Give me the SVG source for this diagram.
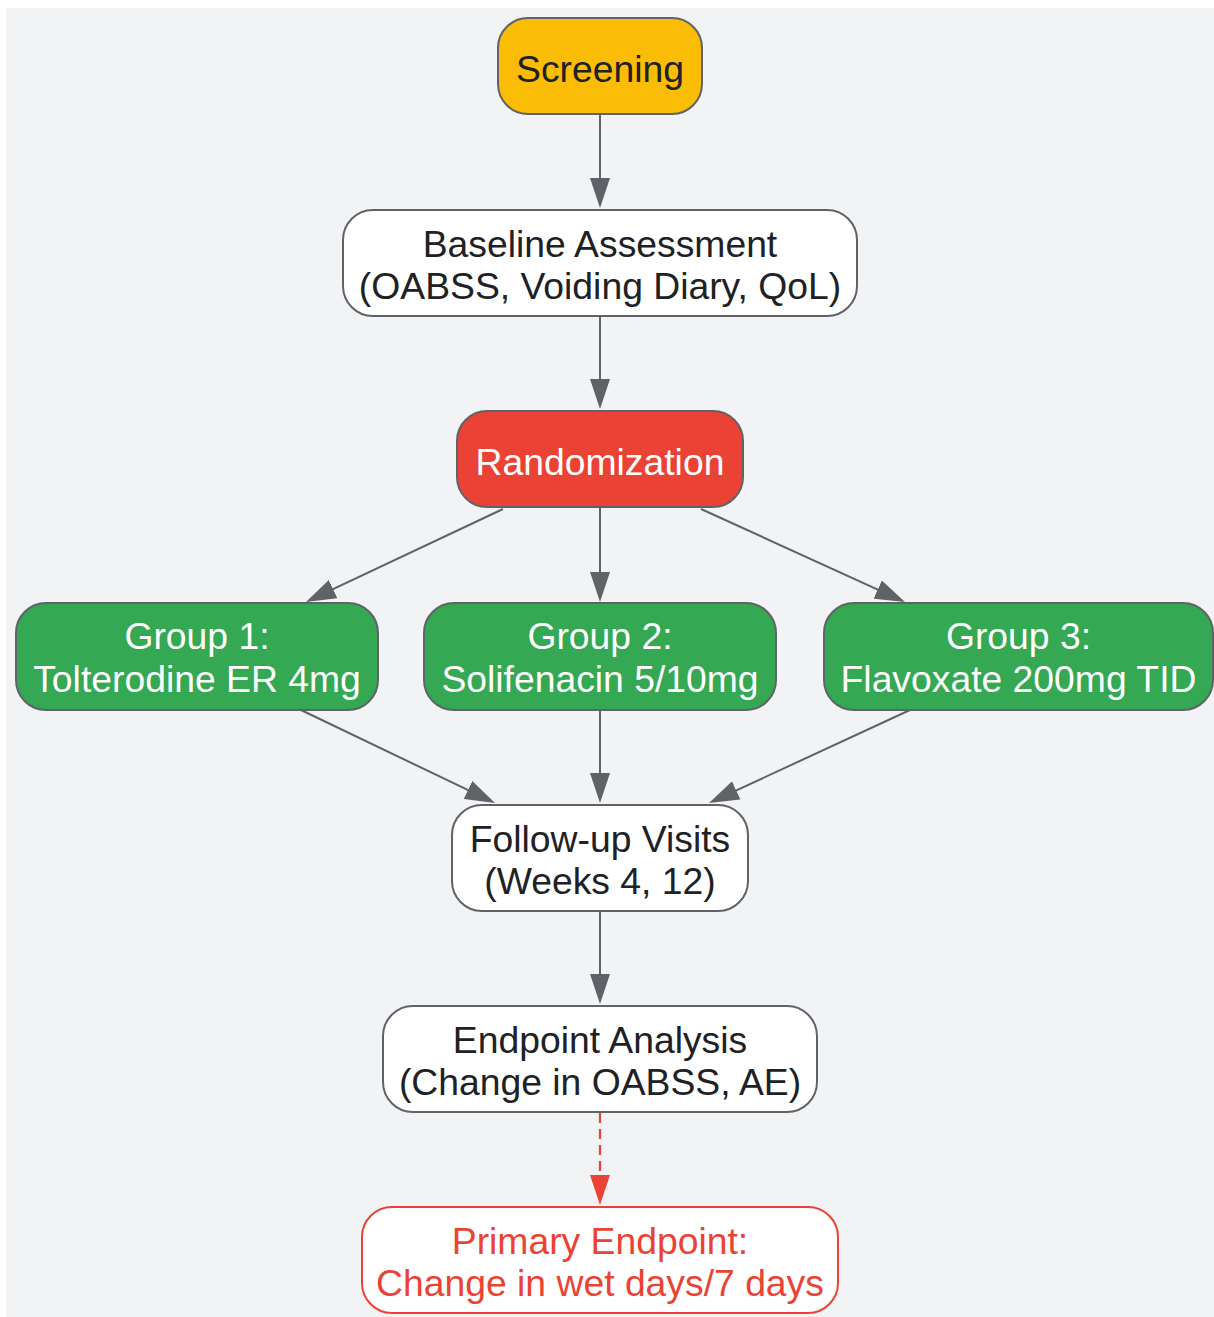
<svg xmlns="http://www.w3.org/2000/svg" width="1214" height="1317" viewBox="0 0 1214 1317">
<style>
  .node rect { stroke: #5f6368; stroke-width: 2; }
  .node text { font-family: "Liberation Sans", Arial, sans-serif; font-size: 37.3px; text-anchor: middle; fill: #202124; }
  .node text.light { fill: #ffffff; }
  .node text.red { fill: #ea4335; }
  .edge { stroke: #5f6368; stroke-width: 2; fill: none; }
  .edge-red { stroke: #ea4335; stroke-width: 2.2; fill: none; stroke-dasharray: 10 6; }
</style>
<defs>
  <marker id="arr" markerUnits="userSpaceOnUse" markerWidth="30" markerHeight="20" refX="20" refY="10" orient="auto">
    <path d="M0,0 L30,10 L0,20 z" fill="#5f6368"/>
  </marker>
  <marker id="arrRed" markerUnits="userSpaceOnUse" markerWidth="30" markerHeight="20" refX="20" refY="10" orient="auto">
    <path d="M0,0 L30,10 L0,20 z" fill="#ea4335"/>
  </marker>
</defs>
<rect x="6" y="8" width="1208" height="1309" fill="#f1f3f4"/>

<g id="connectors">
  <line class="edge" x1="600" y1="115" x2="600" y2="198" marker-end="url(#arr)"/>
  <line class="edge" x1="600" y1="317" x2="600" y2="399" marker-end="url(#arr)"/>
  <line class="edge" x1="503" y1="509" x2="315" y2="597.7" marker-end="url(#arr)"/>
  <line class="edge" x1="600" y1="508" x2="600" y2="592" marker-end="url(#arr)"/>
  <line class="edge" x1="701" y1="509" x2="895.9" y2="597.85" marker-end="url(#arr)"/>
  <line class="edge" x1="301" y1="710" x2="486" y2="798.7" marker-end="url(#arr)"/>
  <line class="edge" x1="600" y1="711" x2="600" y2="793" marker-end="url(#arr)"/>
  <line class="edge" x1="910" y1="710" x2="718.1" y2="798.8" marker-end="url(#arr)"/>
  <line class="edge" x1="600" y1="912" x2="600" y2="994" marker-end="url(#arr)"/>
  <line class="edge-red" x1="600" y1="1113" x2="600" y2="1195" marker-end="url(#arrRed)"/>
</g>

<g id="screening" class="node">
  <rect x="498" y="18" width="204" height="96" rx="30" fill="#fbbc05"/>
  <text x="600" y="82">Screening</text>
</g>

<g id="baseline" class="node">
  <rect x="343" y="210" width="514" height="106" rx="30" fill="#ffffff"/>
  <text x="600" y="257">Baseline Assessment</text>
  <text x="600" y="299">(OABSS, Voiding Diary, QoL)</text>
</g>

<g id="randomization" class="node">
  <rect x="457" y="411" width="286" height="96" rx="30" fill="#ea4335"/>
  <text class="light" x="600" y="475">Randomization</text>
</g>

<g id="group1" class="node">
  <rect x="16" y="603" width="362" height="107" rx="30" fill="#34a853"/>
  <text class="light" x="197" y="649">Group 1:</text>
  <text class="light" x="197" y="692">Tolterodine ER 4mg</text>
</g>

<g id="group2" class="node">
  <rect x="424" y="603" width="352" height="107" rx="30" fill="#34a853"/>
  <text class="light" x="600" y="649">Group 2:</text>
  <text class="light" x="600" y="692">Solifenacin 5/10mg</text>
</g>

<g id="group3" class="node">
  <rect x="824" y="603" width="389" height="107" rx="30" fill="#34a853"/>
  <text class="light" x="1018.5" y="649">Group 3:</text>
  <text class="light" x="1018.5" y="692">Flavoxate 200mg TID</text>
</g>

<g id="followup" class="node">
  <rect x="452" y="805" width="296" height="106" rx="30" fill="#ffffff"/>
  <text x="600" y="852">Follow-up Visits</text>
  <text x="600" y="894">(Weeks 4, 12)</text>
</g>

<g id="endpoint" class="node">
  <rect x="383" y="1006" width="434" height="106" rx="30" fill="#ffffff"/>
  <text x="600" y="1053">Endpoint Analysis</text>
  <text x="600" y="1095">(Change in OABSS, AE)</text>
</g>

<g id="primary" class="node">
  <rect x="362" y="1207" width="476" height="106" rx="30" fill="#ffffff" style="stroke:#ea4335"/>
  <text class="red" x="600" y="1254">Primary Endpoint:</text>
  <text class="red" x="600" y="1296">Change in wet days/7 days</text>
</g>
</svg>
